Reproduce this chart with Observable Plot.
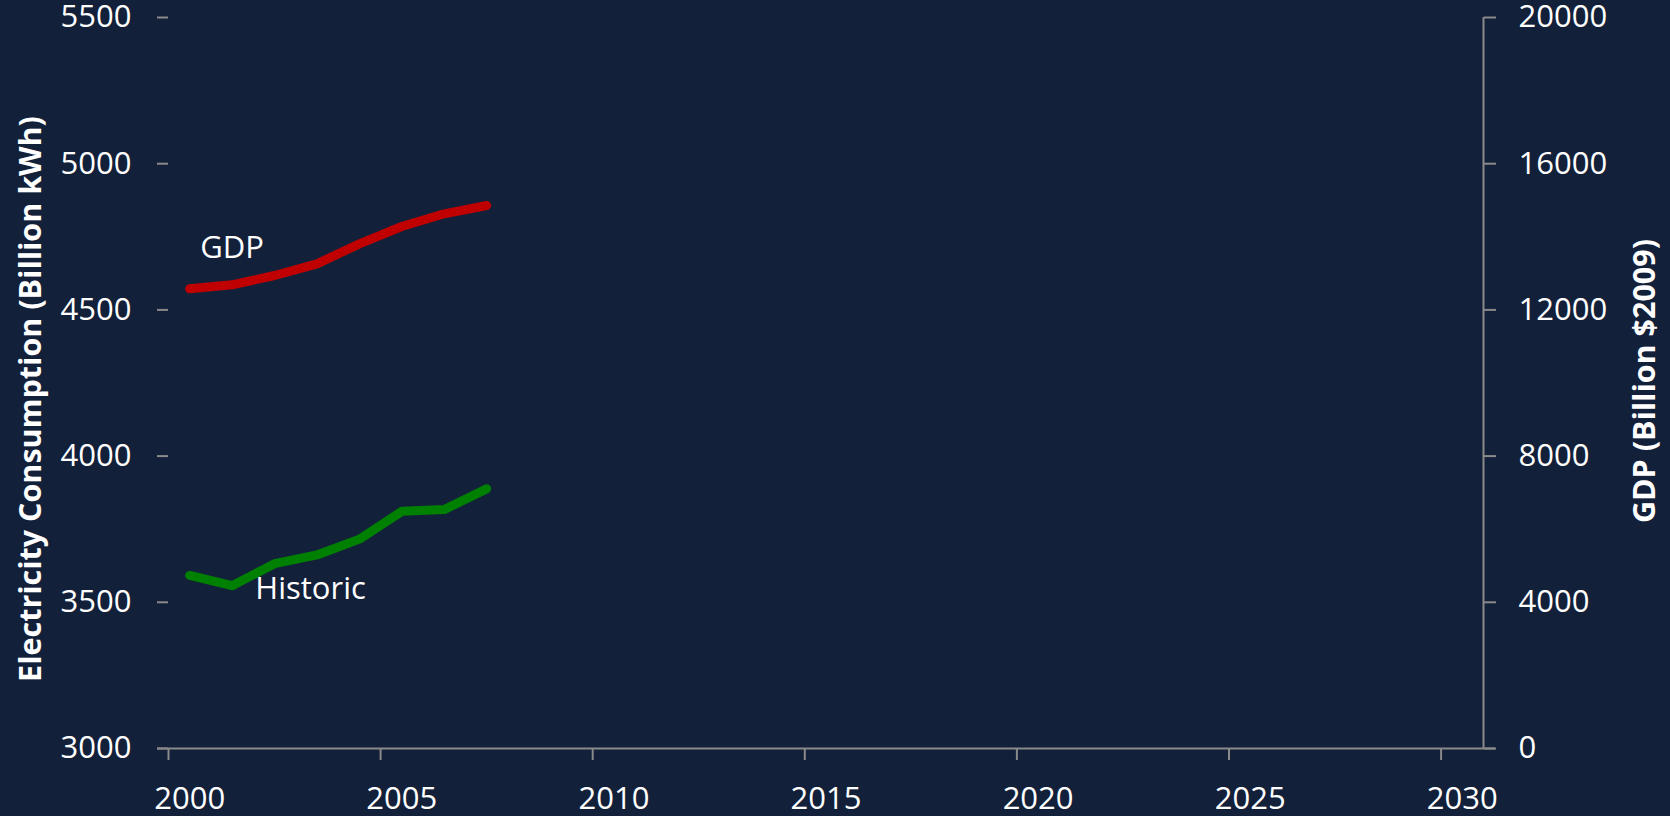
<!DOCTYPE html>
<html>
<head>
<meta charset="utf-8">
<script src="https://cdn.jsdelivr.net/npm/d3@7"></script>
<script src="https://cdn.jsdelivr.net/npm/@observablehq/plot@0.6"></script>
<style>
  html, body { margin: 0; padding: 0; background: #13203a; }
  #chart { width: 1670px; height: 816px; }
</style>
</head>
<body>
<div id="chart"></div>
<script>
// ---- data ----
const years = [2000, 2001, 2002, 2003, 2004, 2005, 2006, 2007];
const electricity = [3592, 3557, 3632, 3662, 3716, 3811, 3817, 3888]; // Billion kWh
const gdp = [12577, 12687, 12941, 13261, 13808, 14282, 14629, 14856];  // Billion $2009

const xDomain = [1999.5, 2030.5];
const yLeftDomain = [3000, 5500];
const yRightDomain = [0, 20000];
const leftTicks = [3000, 3500, 4000, 4500, 5000, 5500];
const rightTicks = [0, 4000, 8000, 12000, 16000, 20000];
const yearLabels = [2000, 2005, 2010, 2015, 2020, 2025, 2030];
const yearTickMarks = [1999.5, 2004.5, 2009.5, 2014.5, 2019.5, 2024.5, 2029.5];

const seriesLabels = [
  {name: "GDP", year: 2001, value: 4713},
  {name: "Historic", year: 2002.85, value: 3544}
];
const leftTitle = "Electricity Consumption (Billion kWh)";
const rightTitle = "GDP (Billion $2009)";

// map GDP onto left scale
const g2e = d3.scaleLinear(yRightDomain, yLeftDomain);

const elecData = years.map((y, i) => ({year: y, value: electricity[i]}));
const gdpData = years.map((y, i) => ({year: y, value: g2e(gdp[i])}));

const axisColor = "#8a8a8a";
const textColor = "#ffffff";

const chart = Plot.plot({
  width: 1670,
  height: 816,
  marginLeft: 168,
  marginRight: 187,
  marginTop: 17,
  marginBottom: 68,
  style: {background: "#13203a", color: textColor, fontFamily: "'Open Sans', sans-serif", fontSize: "31px", overflow: "visible"},
  x: {domain: xDomain, axis: null},
  y: {domain: yLeftDomain, axis: null},
  marks: [
    // left axis ticks + labels
    Plot.axisY(leftTicks, {anchor: "left", tickSize: 11, tickPadding: 26, stroke: axisColor, strokeWidth: 2, fill: textColor, fontSize: 31, tickFormat: d => String(d), label: null}),
    // right axis
    Plot.axisY(rightTicks.map(g2e), {anchor: "right", tickSize: 12, tickPadding: 23, stroke: axisColor, strokeWidth: 2, fill: textColor, fontSize: 31, tickFormat: d => String(Math.round(g2e.invert(d))), label: null}),
    Plot.ruleX([xDomain[1]], {y1: yLeftDomain[0], y2: yLeftDomain[1], stroke: axisColor, strokeWidth: 2}),
    // bottom axis
    Plot.ruleY([yLeftDomain[0]], {stroke: axisColor, strokeWidth: 2, insetLeft: -11, insetRight: -12}),
    Plot.axisX(yearTickMarks, {anchor: "bottom", tickSize: 12, stroke: axisColor, strokeWidth: 2, tickFormat: () => "", label: null}),
    Plot.axisX(yearLabels, {anchor: "bottom", tickSize: 0, tickPadding: 38, fill: textColor, fontSize: 31, tickFormat: d => String(d), label: null}),
    // lines
    Plot.line(gdpData, {x: "year", y: "value", stroke: "#c00000", strokeWidth: 9}),
    Plot.line(elecData, {x: "year", y: "value", stroke: "#008000", strokeWidth: 9}),
    // series labels
    Plot.text(seriesLabels, {x: "year", y: "value", text: "name", fill: textColor, fontSize: 31, textAnchor: "middle"}),
    // axis titles
    Plot.text([leftTitle], {frameAnchor: "left", textAnchor: "middle", dx: -137, dy: 16, rotate: -90, text: d => d, fill: textColor, fontSize: 30.5, fontWeight: "bold"}),
    Plot.text([rightTitle], {frameAnchor: "right", textAnchor: "middle", dx: 162, dy: -2, rotate: -90, text: d => d, fill: textColor, fontSize: 30.5, fontWeight: "bold"})
  ]
});
document.getElementById("chart").appendChild(chart);
</script>
</body>
</html>
